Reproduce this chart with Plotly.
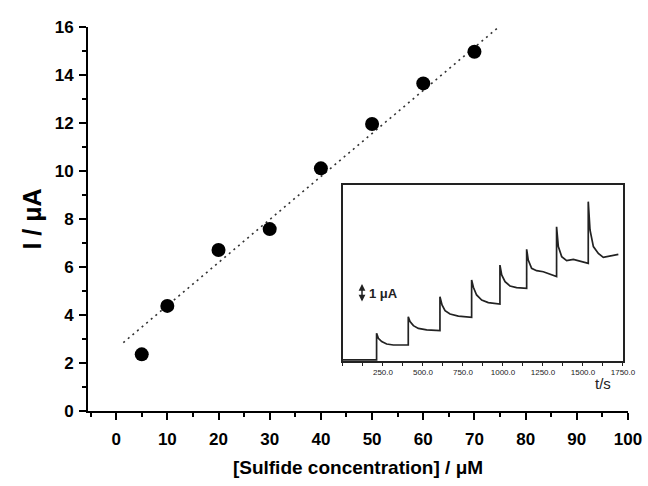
import plotly.graph_objects as go

# Main calibration data
conc = [5, 10, 20, 30, 40, 50, 60, 70]
current = [2.36, 4.38, 6.71, 7.58, 10.11, 11.96, 13.65, 14.97]

# Linear fit line (end points)
fit_x = [1.4, 77.3]
fit_y = [2.85, 16.46]

# Inset amperometric trace (time in s, current in uA, offset)
t_s = [0, 210, 210, 221, 242, 273, 315, 408, 408, 419, 440, 471, 523, 606,
       606, 619, 638, 669, 721, 804, 804, 815, 835, 867, 908, 981,
       981, 992, 1013, 1044, 1085, 1148, 1148, 1158, 1179, 1210, 1252, 1294, 1335,
       1335, 1346, 1367, 1398, 1440, 1523, 1533,
       1533, 1544, 1565, 1596, 1627, 1669, 1721]
i_ua = [0.08, 0.08, 2.13, 1.74, 1.49, 1.31, 1.23, 1.23, 3.41, 3.03, 2.72, 2.51, 2.39, 2.33,
        4.95, 4.31, 3.87, 3.62, 3.46, 3.36, 6.23, 5.67, 5.08, 4.69, 4.49, 4.38,
        7.38, 6.62, 6.10, 5.77, 5.65, 5.59, 8.59, 7.77, 7.13, 6.95, 6.87, 6.69, 6.49,
        10.33, 8.80, 8.03, 7.72, 7.82, 7.56, 7.51,
        12.26, 10.08, 8.80, 8.28, 7.97, 8.08, 8.21]

x_ticks = [0, 10, 20, 30, 40, 50, 60, 70, 80, 90, 100]
y_ticks = [0, 2, 4, 6, 8, 10, 12, 14, 16]
inset_ticks = [250, 500, 750, 1000, 1250, 1500, 1750]

FONT = "Liberation Sans, Arial, sans-serif"
NARROW = "Liberation Sans Narrow, Arial Narrow, Liberation Sans, sans-serif"

fig = go.Figure()

fig.add_trace(go.Scatter(x=fit_x, y=fit_y, mode="lines",
                         line=dict(color="#333333", width=1.6, dash="2px,4px"),
                         showlegend=False, hoverinfo="skip"))
fig.add_trace(go.Scatter(x=conc, y=current, mode="markers",
                         marker=dict(color="black", size=14, symbol="circle"),
                         showlegend=False))
fig.add_trace(go.Scatter(x=t_s, y=i_ua, mode="lines", xaxis="x2", yaxis="y2",
                         line=dict(color="#222222", width=1.7),
                         showlegend=False))

fig.update_layout(
    width=648, height=486,
    margin=dict(l=88, r=20, t=27, b=75),
    paper_bgcolor="white", plot_bgcolor="white",
    font=dict(family=FONT, color="black"),
    xaxis=dict(
        automargin=False,
        range=[-5.5, 100], tickvals=x_ticks, ticktext=[str(v) for v in x_ticks],
        showline=True, linecolor="black", linewidth=2, zeroline=False, showgrid=False,
        ticks="outside", ticklen=7, tickwidth=2, tickcolor="black",
        minor=dict(dtick=5, tick0=0, ticks="outside", ticklen=4, tickwidth=2, tickcolor="black"),
        tickfont=dict(family=FONT, size=17, color="black", weight="bold"),
        ticklabelstandoff=5,
        title=dict(text="[Sulfide concentration] / μM", standoff=12,
                   font=dict(family=FONT, size=19, color="black", weight="bold")),
    ),
    yaxis=dict(
        automargin=False,
        range=[0, 16], tickvals=y_ticks, ticktext=[str(v) for v in y_ticks],
        showline=True, linecolor="black", linewidth=2, zeroline=False, showgrid=False,
        ticks="outside", ticklen=7, tickwidth=2, tickcolor="black",
        minor=dict(dtick=1, tick0=0, ticks="outside", ticklen=4, tickwidth=2, tickcolor="black"),
        tickfont=dict(family=FONT, size=17, color="black", weight="bold"),
        ticklabelstandoff=2,
        title=dict(text="I / μA", standoff=6,
                   font=dict(family=FONT, size=25, color="black", weight="bold")),
    ),
    xaxis2=dict(
        automargin=False,
        domain=[0.4722, 0.9907], anchor="y2", range=[0, 1750],
        tickvals=inset_ticks, ticktext=[f"{v:.1f}" for v in inset_ticks],
        showline=True, mirror=True, linecolor="#222222", linewidth=1.5,
        zeroline=False, showgrid=False,
        ticks="outside", ticklen=3, tickwidth=1, tickcolor="#222222",
        minor=dict(dtick=125, tick0=0, ticks="outside", ticklen=3, tickwidth=1, tickcolor="#222222"),
        tickfont=dict(family=NARROW, size=8, color="#222222"),
    ),
    yaxis2=dict(
        automargin=False,
        domain=[0.1302, 0.5885], anchor="x2", range=[0, 13.54],
        showline=True, mirror=True, linecolor="#222222", linewidth=1.5,
        zeroline=False, showgrid=False, showticklabels=False, ticks="",
    ),
    annotations=[
        dict(text="t/s", xref="paper", yref="paper", x=0.972, y=0.044,
             showarrow=False, font=dict(family=NARROW, size=15, color="#222222")),
        dict(text="1 μA", xref="paper", yref="paper", x=(367 - 88) / 540, y=(411 - 293) / 384,
             xanchor="left", yanchor="middle", showarrow=False,
             font=dict(family=FONT, size=13, color="#222222", weight="bold")),
        dict(text="", xref="paper", yref="paper", x=(362 - 88) / 540, y=(411 - 284) / 384,
             ax=0, ay=19, showarrow=True, arrowside="end+start", arrowhead=2,
             arrowsize=0.9, arrowwidth=1.5, arrowcolor="#222222", standoff=0, startstandoff=0),
    ],
)

fig.write_html("out.html", config={"displayModeBar": False},
               post_script="document.body.style.margin='0';document.body.style.overflow='hidden';")
